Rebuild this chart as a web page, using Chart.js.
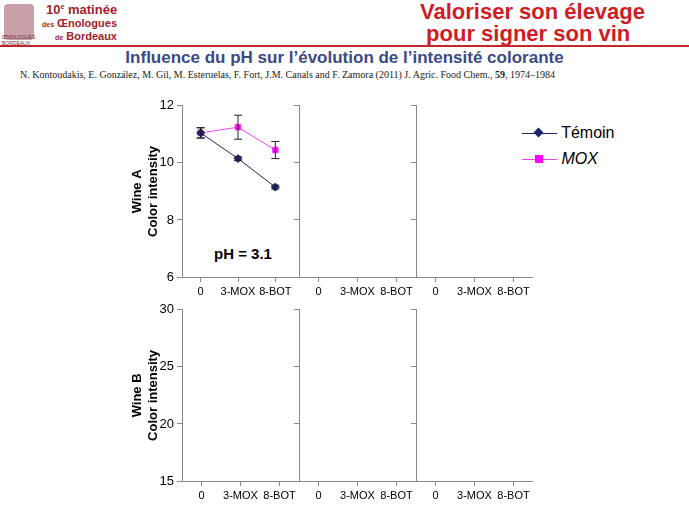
<!DOCTYPE html>
<html><head><meta charset="utf-8">
<script src="https://cdn.jsdelivr.net/npm/chart.js@4"></script>
<style>
body{margin:0;width:689px;height:517px;background:#fff;position:relative;overflow:hidden;font-family:Arial,"Liberation Sans",sans-serif}
.abs{position:absolute}
canvas{position:absolute}
</style></head><body>
<div class="abs" style="left:4px;top:4px;width:30px;height:36px;background:#c9a0a8;border-radius:4px"></div>
<div class="abs" style="left:2px;top:34px;font-size:5px;color:#7a1d2c">ŒNOLOGUES<br>BORDEAUX</div>
<div class="abs" style="left:46px;top:2px;font-size:13px;font-weight:bold;color:#a31c2c">10<sup style="font-size:7px">e</sup> matinée</div>
<div class="abs" style="left:42px;top:17px;font-size:11px;font-weight:bold;color:#a31c2c"><span style="font-size:7px">des</span> Œnologues</div>
<div class="abs" style="left:55px;top:30px;font-size:11px;font-weight:bold;color:#a31c2c"><span style="font-size:7px">de</span> Bordeaux</div>
<div class="abs" style="left:420px;top:1px;font-size:22px;font-weight:bold;color:#d01c24;line-height:22px">Valoriser son élevage<br>&nbsp;pour signer son vin</div>
<div class="abs" style="left:0;top:45px;width:689px;height:2px;background:#c0282c"></div>
<div class="abs" style="left:0;top:48px;width:689px;text-align:center;font-size:17px;color:#3b4a86;font-weight:bold">Influence du pH sur l’évolution de l’intensité colorante</div>
<div class="abs" style="left:20px;top:69px;font-size:10px;font-family:'Liberation Serif',serif;color:#222">N. Kontoudakis, E. González, M. Gil, M. Esteruelas, F. Fort, J.M. Canals and F. Zamora (2011) J. Agric. Food Chem., <b>59</b>, 1974–1984</div>
<div class="abs" style="left:214px;top:245px;font-size:15px;font-weight:bold">pH = 3.1</div>
<div class="abs" style="left:522px;top:120px;font-size:16px;line-height:26px">
<div><span style="display:inline-block;width:35px;height:1px;background:#1a2468;vertical-align:middle;position:relative"><span style="position:absolute;left:13px;top:-4px;width:7px;height:7px;background:#1a2468;transform:rotate(45deg)"></span></span> Témoin</div>
<div><span style="display:inline-block;width:35px;height:1px;background:#ee44ee;vertical-align:middle;position:relative"><span style="position:absolute;left:13px;top:-4px;width:8px;height:8px;background:#ff00ff"></span></span> <i>MOX</i></div>
</div>
<canvas id="p0" width="169" height="210" style="left:130px;top:95px"></canvas>
<canvas id="p1" width="125" height="210" style="left:291px;top:95px"></canvas>
<canvas id="p2" width="125" height="210" style="left:408px;top:95px"></canvas>
<canvas id="p3" width="169" height="210" style="left:130px;top:299px"></canvas>
<canvas id="p4" width="125" height="210" style="left:291px;top:299px"></canvas>
<canvas id="p5" width="125" height="210" style="left:408px;top:299px"></canvas>
<script>
const categories = ['0', '3-MOX', '8-BOT'];
const temoinA = [11.05, 10.15, 9.15];
const temoinAErr = [0.18, 0.07, 0.07];
const moxA = [11.05, 11.25, 10.45];
const moxAErr = [0.18, 0.42, 0.3];
const yTicksA = [6, 8, 10, 12];
const yTicksB = [15, 20, 25, 30];

const errorBars = {
  id: 'errorBars',
  afterDatasetsDraw(chart) {
    const ctx = chart.ctx, y = chart.scales.y;
    chart.data.datasets.forEach((ds, i) => {
      if (!ds.errors) return;
      chart.getDatasetMeta(i).data.forEach((pt, j) => {
        const v = ds.data[j], e = ds.errors[j];
        const t = y.getPixelForValue(v + e), b = y.getPixelForValue(v - e);
        ctx.save();
        ctx.strokeStyle = '#222'; ctx.lineWidth = 1;
        ctx.beginPath();
        ctx.moveTo(pt.x, t); ctx.lineTo(pt.x, b);
        ctx.moveTo(pt.x - 4, t); ctx.lineTo(pt.x + 4, t);
        ctx.moveTo(pt.x - 4, b); ctx.lineTo(pt.x + 4, b);
        ctx.stroke();
        ctx.restore();
      });
    });
  }
};

function panel(id, first, ticks, datasets, title) {
  new Chart(document.getElementById(id), {
    type: 'line',
    data: { labels: categories, datasets: datasets },
    plugins: [errorBars],
    options: {
      responsive: false, animation: false,
      layout: { padding: { top: 10, right: 0, left: 0, bottom: 0 } },
      plugins: { legend: { display: false }, tooltip: { enabled: false } },
      scales: {
        x: {
          offset: true,
          grid: { drawOnChartArea: false, tickLength: 5, color: '#888', offset: false },
          border: { color: '#888' },
          ticks: { color: '#000', font: { size: 11, family: 'Arial' }, padding: 3, maxRotation: 0, autoSkip: false },
          afterFit: s => { s.height = 28; }
        },
        y: {
          min: ticks[0], max: ticks[ticks.length - 1],
          afterBuildTicks: s => { s.ticks = ticks.map(v => ({ value: v })); },
          grid: { drawOnChartArea: false, tickLength: 5, color: '#888' },
          border: { color: '#888' },
          ticks: { display: first, color: '#000', font: { size: 13, family: 'Arial' }, padding: 3 },
          title: { display: first, text: title, color: '#000', font: { size: 13, weight: 'bold', family: 'Arial' }, padding: 0 },
          afterFit: s => { s.width = first ? 52 : 8; }
        }
      }
    }
  });
}

const dataA = [
  { data: temoinA, errors: temoinAErr, borderColor: '#1a2468', backgroundColor: '#1a2468', borderWidth: 1, pointStyle: 'rectRot', pointRadius: 4 },
  { data: moxA, errors: moxAErr, borderColor: '#ee44ee', backgroundColor: '#ff00ff', borderWidth: 1, pointStyle: 'rect', pointRadius: 4 }
];
panel('p0', true, yTicksA, dataA, ['Wine A', 'Color intensity']);
panel('p1', false, yTicksA, [], '');
panel('p2', false, yTicksA, [], '');
panel('p3', true, yTicksB, [], ['Wine B', 'Color intensity']);
panel('p4', false, yTicksB, [], '');
panel('p5', false, yTicksB, [], '');
</script>
</body></html>
